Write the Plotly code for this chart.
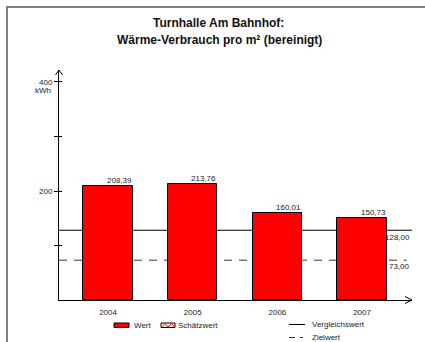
import plotly.graph_objects as go

# ---- data ----
years = ["2004", "2005", "2006", "2007"]
wert = [208.39, 213.76, 160.01, 150.73]
vergleichswert = 128.00
zielwert = 73.00
ytick_vals = [100, 200, 300, 400]
ytick_text = ["", "200", "", "400"]
title_line1 = "Turnhalle Am Bahnhof:"
title_line2 = "Wärme-Verbrauch pro m² (bereinigt)"
unit = "kWh"

# ---- layout constants ----
W, H = 425, 342
ML, MR, MT, MB = 59, 13, 70, 42
PW, PH = W - ML - MR, H - MT - MB
FONT = "Liberation Sans, Arial, sans-serif"
TXT = "#222222"
XR = [-0.579, 3.59]


def px(x):
    return (x - ML) / PW


def py(y):
    return (H - MB - y) / PH


def fmt(v):
    return f"{v:.2f}".replace(".", ",")


fig = go.Figure()
fig.add_trace(go.Bar(
    x=years, y=wert, width=0.58,
    marker=dict(color="#FF0000", line=dict(color="black", width=1)),
    showlegend=False, hoverinfo="skip",
))
fig.add_trace(go.Scatter(x=[], y=[], yaxis="y2", showlegend=False, hoverinfo="skip"))

shapes = []
annotations = []

# reference lines (behind bars)
shapes.append(dict(type="line", xref="x domain", yref="y", x0=0, x1=1,
                   y0=vergleichswert, y1=vergleichswert, layer="below",
                   line=dict(color="black", width=1)))
shapes.append(dict(type="line", xref="x domain", yref="y", x0=0, x1=0.985,
                   y0=zielwert, y1=zielwert, layer="below",
                   line=dict(color="#333333", width=1, dash="8px,7px")))
annotations.append(dict(xref="paper", yref="y", x=1, y=vergleichswert, xanchor="right",
                        yanchor="middle", yshift=-7, text=fmt(vergleichswert), showarrow=False,
                        font=dict(size=8, color=TXT, family=FONT)))
annotations.append(dict(xref="paper", yref="y", x=1, y=zielwert, xanchor="right",
                        yanchor="middle", yshift=-6, text=fmt(zielwert), showarrow=False,
                        font=dict(size=8, color=TXT, family=FONT)))

# bar value labels, right-aligned at bar right edge
half_bar_px = 0.29 * PW / (XR[1] - XR[0])
for i, v in enumerate(wert):
    annotations.append(dict(xref="x", yref="y", x=i, y=v, xanchor="right", yanchor="middle",
                            xshift=half_bar_px + 1, yshift=5.5, text=fmt(v), showarrow=False,
                            font=dict(size=8, color=TXT, family=FONT)))

# kWh unit below 400
annotations.append(dict(xref="paper", yref="y", x=0, y=400, xanchor="right", yanchor="middle",
                        xshift=-6, yshift=-9, text=unit, showarrow=False,
                        font=dict(size=8, color=TXT, family=FONT)))

# axis arrows
shapes.append(dict(type="path", xref="paper", yref="paper", xsizemode="pixel", ysizemode="pixel",
                   xanchor=1, yanchor=0, path="M-7,3.5 L0,0 L-7,-3.5",
                   line=dict(color="black", width=1)))
shapes.append(dict(type="path", xref="paper", yref="paper", xsizemode="pixel", ysizemode="pixel",
                   xanchor=0, yanchor=1, path="M-3.5,-5 L0,0 L3.5,-5",
                   line=dict(color="black", width=1)))

# outer frame
shapes.append(dict(type="rect", xref="paper", yref="paper", x0=px(7), x1=px(440),
                   y0=py(360), y1=py(7), line=dict(color="#808080", width=2)))

# titles
annotations.append(dict(xref="paper", yref="paper", x=px(151), y=py(23.5), xanchor="left",
                        yanchor="middle", text="<b>" + title_line1 + "</b>", showarrow=False,
                        font=dict(size=12, color="#111111", family=FONT)))
annotations.append(dict(xref="paper", yref="paper", x=px(115), y=py(39.5), xanchor="left",
                        yanchor="middle", text="<b>" + title_line2 + "</b>", showarrow=False,
                        font=dict(size=12, color="#111111", family=FONT)))

# custom legend
shapes.append(dict(type="rect", xref="paper", yref="paper", x0=px(114), x1=px(129),
                   y0=py(327.5), y1=py(323), fillcolor="#FF0000",
                   line=dict(color="black", width=1)))
annotations.append(dict(xref="paper", yref="paper", x=px(132), y=py(325.5), xanchor="left",
                        yanchor="middle", text="Wert", showarrow=False,
                        font=dict(size=8, color=TXT, family=FONT)))
shapes.append(dict(type="rect", xref="paper", yref="paper", x0=px(161), x1=px(175),
                   y0=py(327.5), y1=py(323), fillcolor="white",
                   line=dict(color="black", width=1)))
zig = "M{},{} L{},{} L{},{} L{},{} L{},{}".format(
    px(161.5), py(327), px(165), py(323.5), px(168), py(327), px(171.5), py(323.5), px(174.5), py(327))
shapes.append(dict(type="path", xref="paper", yref="paper", path=zig,
                   line=dict(color="#FF0000", width=1)))
annotations.append(dict(xref="paper", yref="paper", x=px(176), y=py(325.5), xanchor="left",
                        yanchor="middle", text="Schätzwert", showarrow=False,
                        font=dict(size=8, color=TXT, family=FONT)))
shapes.append(dict(type="line", xref="paper", yref="paper", x0=px(289), x1=px(305),
                   y0=py(324.5), y1=py(324.5), line=dict(color="black", width=1)))
annotations.append(dict(xref="paper", yref="paper", x=px(310), y=py(324.5), xanchor="left",
                        yanchor="middle", text="Vergleichswert", showarrow=False,
                        font=dict(size=8, color=TXT, family=FONT)))
shapes.append(dict(type="line", xref="paper", yref="paper", x0=px(289), x1=px(303),
                   y0=py(337.5), y1=py(337.5), line=dict(color="#333333", width=1, dash="6px,5px")))
annotations.append(dict(xref="paper", yref="paper", x=px(310), y=py(337.5), xanchor="left",
                        yanchor="middle", text="Zielwert", showarrow=False,
                        font=dict(size=8, color=TXT, family=FONT)))

fig.update_layout(
    width=W, height=H,
    margin=dict(l=ML, r=MR, t=MT, b=MB, pad=0),
    paper_bgcolor="white", plot_bgcolor="rgba(0,0,0,0)",
    font=dict(family=FONT, size=8, color=TXT),
    showlegend=False,
    bargap=0,
    hovermode=False,
    xaxis=dict(type="category", range=XR, showline=True, linecolor="black",
               linewidth=1, ticks="", showgrid=False, zeroline=False, ticklabelstandoff=4,
               tickfont=dict(size=8, color=TXT, family=FONT), fixedrange=True),
    yaxis=dict(range=[0, 422], showline=True, linecolor="black", linewidth=1,
               ticks="outside", ticklen=4, tickcolor="black", tickwidth=1,
               tickvals=ytick_vals, ticktext=ytick_text, showgrid=False, zeroline=False,
               tickfont=dict(size=8, color=TXT, family=FONT), fixedrange=True),
    yaxis2=dict(range=[0, 422], overlaying="y", side="left", anchor="x",
                ticks="inside", ticklen=3, tickcolor="black", tickwidth=1,
                tickvals=ytick_vals, showticklabels=False, showline=False,
                showgrid=False, zeroline=False, fixedrange=True),
    shapes=shapes,
    annotations=annotations,
)

fig.write_html("out.html", config={"displayModeBar": False},
               post_script="document.body.style.margin='0';")
